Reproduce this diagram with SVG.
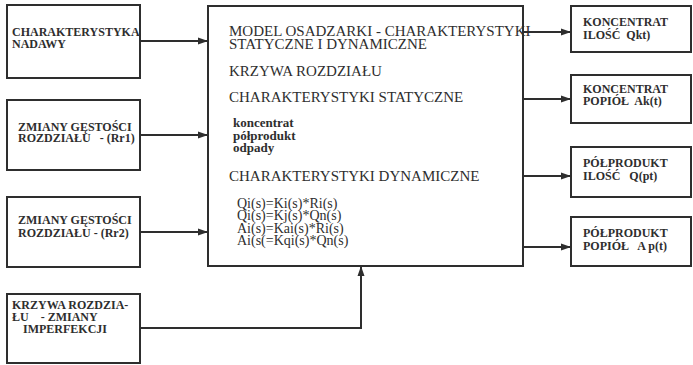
<svg xmlns="http://www.w3.org/2000/svg" width="693" height="365" viewBox="0 0 693 365">
<style>
.box{fill:none;stroke:#2e2e2e;stroke-width:2}
.t{font-family:"Liberation Serif","Times New Roman",serif;fill:#2e2e2e}
.s{font-size:12px;font-weight:bold}
.h{font-size:15px}
.l{font-size:13px;font-weight:bold}
.e{font-size:14px}
.c{fill:none;stroke:#2e2e2e;stroke-width:2}
</style>
<defs>
<marker id="arr" markerUnits="userSpaceOnUse" markerWidth="10" markerHeight="10" viewBox="0 0 10 10" refX="10" refY="5" orient="auto">
<path d="M0,1.5 L10,5 L0,8.5 Z" fill="#2e2e2e"/>
</marker>
</defs>
<rect width="693" height="365" fill="#ffffff"/>
<g id="connectors">
<path class="c" d="M140,41 H208" marker-end="url(#arr)"/>
<path class="c" d="M140,135 H208" marker-end="url(#arr)"/>
<path class="c" d="M140,232 H208" marker-end="url(#arr)"/>
<path class="c" d="M140,328 H361 V266" marker-end="url(#arr)"/>
<path class="c" d="M523,32 H571" marker-end="url(#arr)"/>
<path class="c" d="M523,99 H571" marker-end="url(#arr)"/>
<path class="c" d="M523,176 H571" marker-end="url(#arr)"/>
<path class="c" d="M523,247 H571" marker-end="url(#arr)"/>
</g>
<g id="nadawa">
<rect class="box" x="7" y="5" width="133" height="73"/>
<text class="t s" x="12" y="36">CHARAKTERYSTYKA</text>
<text class="t s" x="12" y="48">NADAWY</text>
</g>
<g id="rr1">
<rect class="box" x="7" y="100" width="133" height="70"/>
<text class="t s" x="18" y="131">ZMIANY GĘSTOŚCI</text>
<text class="t s" x="18" y="142" xml:space="preserve">ROZDZIAŁU   - (Rr1)</text>
</g>
<g id="rr2">
<rect class="box" x="7" y="197" width="133" height="70"/>
<text class="t s" x="18" y="224">ZMIANY GĘSTOŚCI</text>
<text class="t s" x="18" y="237">ROZDZIAŁU - (Rr2)</text>
</g>
<g id="imperfekcja">
<rect class="box" x="7" y="294" width="133" height="69"/>
<text class="t s" x="12" y="309">KRZYWA ROZDZIA-</text>
<text class="t s" x="12" y="321" xml:space="preserve">ŁU    - ZMIANY</text>
<text class="t s" x="23" y="333">IMPERFEKCJI</text>
</g>
<g id="model">
<rect class="box" x="208" y="6" width="315" height="260"/>
<text class="t h" x="229" y="36">MODEL OSADZARKI - CHARAKTERYSTYKI</text>
<text class="t h" x="229" y="49">STATYCZNE I DYNAMICZNE</text>
<text class="t h" x="229" y="76">KRZYWA ROZDZIAŁU</text>
<text class="t h" x="229" y="102">CHARAKTERYSTYKI STATYCZNE</text>
<text class="t l" x="233" y="127">koncentrat</text>
<text class="t l" x="233" y="140">półprodukt</text>
<text class="t l" x="233" y="152">odpady</text>
<text class="t h" x="229" y="181">CHARAKTERYSTYKI DYNAMICZNE</text>
<text class="t e" x="237" y="208">Qi(s)=Ki(s)*Ri(s)</text>
<text class="t e" x="237" y="220">Qi(s)=Kj(s)*Qn(s)</text>
<text class="t e" x="237" y="233">Ai(s)=Kai(s)*Ri(s)</text>
<text class="t e" x="237" y="245">Ai(s(=Kqi(s)*Qn(s)</text>
</g>
<g id="koncentrat-ilosc">
<rect class="box" x="571" y="6" width="120" height="46"/>
<text class="t s" x="583" y="26">KONCENTRAT</text>
<text class="t s" x="583" y="39" xml:space="preserve">ILOŚĆ  Qkt)</text>
</g>
<g id="koncentrat-popiol">
<rect class="box" x="571" y="75" width="120" height="48"/>
<text class="t s" x="583" y="93">KONCENTRAT</text>
<text class="t s" x="583" y="105" xml:space="preserve">POPIÓŁ  Ak(t)</text>
</g>
<g id="polprodukt-ilosc">
<rect class="box" x="571" y="147" width="120" height="50"/>
<text class="t s" x="583" y="167">PÓŁPRODUKT</text>
<text class="t s" x="583" y="180" xml:space="preserve">ILOŚĆ   Q(pt)</text>
</g>
<g id="polprodukt-popiol">
<rect class="box" x="571" y="217" width="120" height="49"/>
<text class="t s" x="583" y="237">PÓŁPRODUKT</text>
<text class="t s" x="583" y="250" xml:space="preserve">POPIÓŁ   A p(t)</text>
</g>
</svg>
